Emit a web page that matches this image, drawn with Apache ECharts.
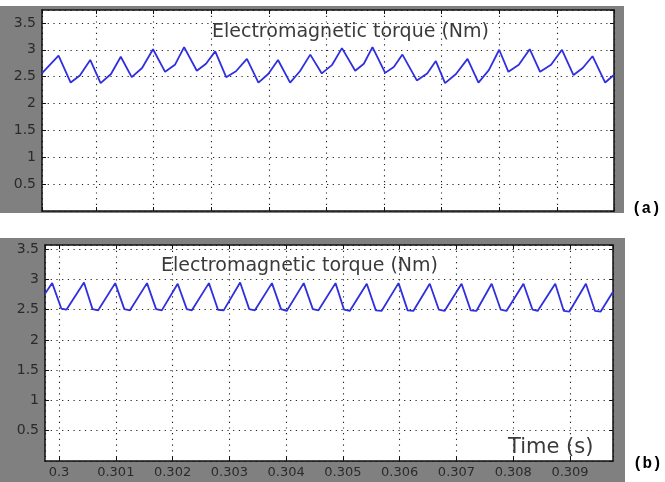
<!DOCTYPE html>
<html>
<head>
<meta charset="utf-8">
<script src="https://cdn.jsdelivr.net/npm/echarts@6/dist/echarts.min.js"></script>
<style>
  html, body { margin: 0; padding: 0; background: #fff; }
  #chart { width: 665px; height: 482px; }
</style>
</head>
<body>
<div id="chart"></div>
<script>
  // (a) torque vs time, peaks / troughs
  var timeA = [0.30006, 0.30035, 0.30056, 0.30072, 0.30090, 0.30108, 0.30126, 0.30143, 0.30162, 0.30180,
    0.30199, 0.30220, 0.30237, 0.30253, 0.30275, 0.30291, 0.30307, 0.30326, 0.30343, 0.30362,
    0.30382, 0.30399, 0.30416, 0.30437, 0.30454, 0.30472, 0.30492, 0.30510, 0.30527, 0.30550,
    0.30565, 0.30580, 0.30602, 0.30617, 0.30632, 0.30657, 0.30675, 0.30690, 0.30706, 0.30725,
    0.30745, 0.30764, 0.30782, 0.30800, 0.30816, 0.30834, 0.30853, 0.30871, 0.30890, 0.30909,
    0.30929, 0.30945, 0.30962, 0.30984, 0.30999];
  var torqueA = [2.56, 2.89, 2.39, 2.52, 2.81, 2.38, 2.55, 2.87, 2.49, 2.66,
    3.01, 2.59, 2.72, 3.05, 2.61, 2.74, 2.97, 2.49, 2.60, 2.83,
    2.39, 2.55, 2.81, 2.39, 2.60, 2.91, 2.56, 2.72, 3.03, 2.61,
    2.74, 3.05, 2.57, 2.68, 2.91, 2.43, 2.56, 2.79, 2.38, 2.55,
    2.83, 2.39, 2.62, 3.00, 2.59, 2.72, 3.01, 2.59, 2.72, 3.00,
    2.53, 2.66, 2.88, 2.39, 2.53];

  // (b) torque vs time: peak, trough start, trough end per cycle
  var timeB = [0.29975,
    0.29988, 0.30004, 0.30013,
    0.30044, 0.30059, 0.30069,
    0.30099, 0.30115, 0.30125,
    0.30155, 0.30171, 0.30181,
    0.30209, 0.30225, 0.30234,
    0.30264, 0.30280, 0.30290,
    0.30319, 0.30335, 0.30345,
    0.30375, 0.30391, 0.30401,
    0.30431, 0.30447, 0.30457,
    0.30487, 0.30502, 0.30512,
    0.30542, 0.30558, 0.30568,
    0.30598, 0.30614, 0.30624,
    0.30653, 0.30669, 0.30679,
    0.30709, 0.30725, 0.30735,
    0.30762, 0.30778, 0.30788,
    0.30818, 0.30834, 0.30843,
    0.30874, 0.30889, 0.30899,
    0.30928, 0.30944, 0.30954,
    0.30976];
  var torqueB = [2.76,
    2.94, 2.52, 2.50,
    2.95, 2.51, 2.49,
    2.94, 2.51, 2.49,
    2.94, 2.51, 2.49,
    2.93, 2.51, 2.49,
    2.94, 2.50, 2.49,
    2.95, 2.51, 2.49,
    2.94, 2.51, 2.48,
    2.94, 2.51, 2.49,
    2.94, 2.50, 2.48,
    2.93, 2.49, 2.48,
    2.94, 2.49, 2.48,
    2.93, 2.50, 2.48,
    2.93, 2.49, 2.48,
    2.93, 2.50, 2.48,
    2.93, 2.50, 2.48,
    2.93, 2.48, 2.47,
    2.93, 2.48, 2.47,
    2.80];

  var title = 'Electromagnetic torque (Nm)';
  var xLabel = 'Time (s)';

  var font = 'DejaVu Sans';
  var gridDots = {color: '#222', width: 1.1, type: [1.2, 4.5]};

  function pair(t, v) {
    var out = [];
    for (var i = 0; i < t.length; i++) out.push([t[i], v[i]]);
    return out;
  }

  function xAx(idx, min, max, labels, pos) {
    return {
      type: 'value', gridIndex: idx, position: pos, min: min, max: max,
      splitNumber: 10, minInterval: 0.001, maxInterval: 0.001,
      axisLine: {show: true, onZero: false, lineStyle: {color: '#111', width: 1.5}},
      axisTick: {show: true, inside: true, length: 4, lineStyle: {color: '#111'}},
      axisLabel: {show: labels, showMinLabel: false, showMaxLabel: false, margin: 5,
        color: '#2a2a2a', fontFamily: font, fontSize: 13},
      splitLine: {show: pos === 'bottom', lineStyle: gridDots}
    };
  }

  function yAx(idx, max, pos) {
    return {
      type: 'value', gridIndex: idx, position: pos, min: 0, max: max, interval: 0.5,
      axisLine: {show: true, onZero: false, lineStyle: {color: '#111', width: 1.5}},
      axisTick: {show: true, inside: true, length: 4, lineStyle: {color: '#111'}},
      axisLabel: {show: pos === 'left', showMinLabel: false, showMaxLabel: false, margin: 6,
        color: '#2a2a2a', fontFamily: font, fontSize: 14},
      splitLine: {show: pos === 'left', lineStyle: gridDots}
    };
  }

  var myChart = echarts.init(document.getElementById('chart'));
  var option = {
    animation: false,
    backgroundColor: '#fff',
    graphic: [
      {type: 'rect', z: -10, shape: {x: 0, y: 6, width: 624, height: 207}, style: {fill: '#808080'}},
      {type: 'rect', z: -10, shape: {x: 0, y: 238, width: 625, height: 244}, style: {fill: '#808080'}},
      {type: 'text', z: 100, left: 212, top: 23, style: {text: title, fill: '#3a3a3a', font: '19px "DejaVu Sans"'}},
      {type: 'text', z: 100, left: 161, top: 257, style: {text: title, fill: '#3a3a3a', font: '19px "DejaVu Sans"'}},
      {type: 'text', z: 100, left: 508, top: 437, style: {text: xLabel, fill: '#3a3a3a', font: '21px "DejaVu Sans"'}},
      {type: 'text', z: 100, left: 632, top: 201, style: {text: '(a)', fill: '#000', font: 'bold 16px "Liberation Mono"'}},
      {type: 'text', z: 100, left: 633, top: 456, style: {text: '(b)', fill: '#000', font: 'bold 16px "Liberation Mono"'}}
    ],
    grid: [
      {left: 42, top: 10, width: 572, height: 201, show: true, backgroundColor: '#fff', borderWidth: 0},
      {left: 45, top: 245, width: 568, height: 216, show: true, backgroundColor: '#fff', borderWidth: 0}
    ],
    xAxis: [
      xAx(0, 0.3000625, 0.309993, false, 'bottom'),
      xAx(0, 0.3000625, 0.309993, false, 'top'),
      xAx(1, 0.299753, 0.309757, true, 'bottom'),
      xAx(1, 0.299753, 0.309757, false, 'top')
    ],
    yAxis: [
      yAx(0, 3.74, 'left'),
      yAx(0, 3.74, 'right'),
      yAx(1, 3.57, 'left'),
      yAx(1, 3.57, 'right')
    ],
    series: [
      {
        name: 'torque a', type: 'line', xAxisIndex: 0, yAxisIndex: 0,
        symbol: 'none', smooth: false,
        lineStyle: {color: '#2f2fe0', width: 1.8},
        data: pair(timeA, torqueA)
      },
      {
        name: 'torque b', type: 'line', xAxisIndex: 2, yAxisIndex: 2,
        symbol: 'none', smooth: false,
        lineStyle: {color: '#2f2fe0', width: 1.8},
        data: pair(timeB, torqueB)
      }
    ]
  };
  myChart.setOption(option, true);
</script>
</body>
</html>
